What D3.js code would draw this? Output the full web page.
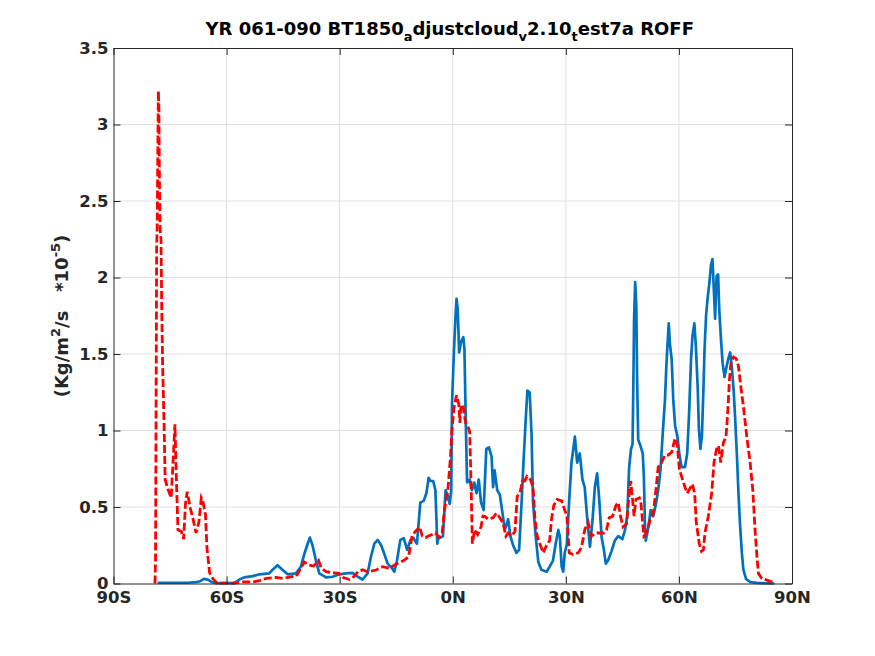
<!DOCTYPE html>
<html><head><meta charset="utf-8">
<script src="https://cdn.jsdelivr.net/npm/d3@7"></script>
<style>html,body{margin:0;padding:0;background:#fff;}svg{display:block;}</style>
</head><body>
<svg id="chart" width="875" height="656"></svg>
<script>
const xTicks = [-90, -60, -30, 0, 30, 60, 90];
const xTickLabels = ["90S", "60S", "30S", "0N", "30N", "60N", "90N"];
const yTicks = [0, 0.5, 1, 1.5, 2, 2.5, 3, 3.5];
const yTickLabels = ["0", "0.5", "1", "1.5", "2", "2.5", "3", "3.5"];

const blueLat = [-78.3,-74,-70.3,-68,-67,-66,-65,-64,-63,-62,-58,-57.5,-56.6,-55.3,-53.1,-51.3,-48.7,-47.8,-46.5,-45.1,-43.8,-41.6,-40.3,-39.4,-38.5,-37.9,-37.2,-36.3,-35.4,-33.6,-31.9,-30.1,-28.3,-26.6,-25.2,-23.9,-22.6,-21.7,-20.8,-19.9,-19.0,-18.1,-17.3,-16.1,-15.5,-14.8,-13.9,-13.0,-12.1,-11.2,-10.4,-9.5,-8.6,-7.7,-7.0,-6.4,-5.9,-5.2,-4.6,-4.1,-3.7,-3.2,-2.6,-1.9,-1.3,-0.8,-0.4,-0.2,0.27,0.7,1.0,1.3,1.7,2.2,2.8,3.1,3.5,3.8,4.5,5.1,5.7,6.3,6.9,7.5,8.2,8.9,9.6,10.3,10.7,11.1,11.8,12.5,13.2,13.8,14.7,15.3,16.0,16.9,17.6,18.2,18.8,19.4,19.8,20.4,20.9,21.3,22.0,22.7,23.5,24.9,25.7,26.6,27.3,28.0,28.4,28.9,29.3,29.7,30.3,30.9,31.5,32.1,32.4,33.0,33.7,34.4,35.0,35.7,36.4,37.1,37.7,38.3,38.8,39.5,40.1,40.6,41.2,42.1,43.0,43.9,45.0,45.7,46.3,46.8,47.3,47.7,47.9,48.1,48.4,48.7,48.9,49.2,49.8,50.4,50.7,51.0,51.2,51.9,52.5,53.2,53.9,54.5,55.1,55.7,56.3,56.7,57.3,57.6,58.1,58.5,59.0,59.6,60.1,60.7,61.6,62.2,62.7,63.2,63.6,64.1,64.5,65.0,65.3,65.7,66.1,66.5,66.8,67.2,67.6,68.1,68.5,68.9,69.3,69.6,70.0,70.4,70.7,71.2,71.6,72.1,72.5,73.1,73.6,74.0,74.5,74.9,75.4,75.8,76.2,76.7,77.1,77.8,78.9,80.7,85.3];
const blueVal = [0.005,0.005,0.005,0.01,0.015,0.03,0.025,0.01,0.003,0.002,0.002,0.01,0.026,0.04,0.048,0.06,0.066,0.09,0.12,0.088,0.06,0.066,0.11,0.19,0.26,0.30,0.25,0.15,0.066,0.04,0.044,0.06,0.066,0.07,0.044,0.026,0.066,0.175,0.26,0.285,0.25,0.19,0.13,0.10,0.077,0.15,0.285,0.296,0.22,0.285,0.296,0.26,0.53,0.54,0.59,0.69,0.67,0.67,0.61,0.26,0.31,0.30,0.31,0.61,0.57,0.52,0.61,1.17,1.49,1.73,1.86,1.80,1.51,1.58,1.61,1.53,1.01,0.66,0.68,0.61,0.66,0.59,0.68,0.53,0.48,0.88,0.89,0.83,0.63,0.74,0.61,0.58,0.46,0.35,0.42,0.31,0.25,0.20,0.22,0.50,0.81,1.09,1.26,1.25,0.98,0.53,0.31,0.14,0.09,0.077,0.11,0.15,0.26,0.35,0.31,0.11,0.077,0.20,0.26,0.55,0.79,0.90,0.96,0.79,0.85,0.68,0.63,0.42,0.24,0.42,0.63,0.72,0.57,0.30,0.22,0.13,0.15,0.21,0.28,0.31,0.29,0.35,0.44,0.76,0.88,0.91,1.27,1.72,1.97,1.81,1.35,0.94,0.90,0.85,0.70,0.37,0.28,0.37,0.48,0.44,0.52,0.61,0.74,0.98,1.20,1.44,1.70,1.57,1.46,1.20,1.03,0.96,0.85,0.76,0.76,0.85,1.11,1.46,1.62,1.70,1.55,1.27,1.01,0.88,0.96,1.27,1.53,1.75,1.86,1.97,2.08,2.12,1.90,1.73,2.01,2.02,1.79,1.58,1.44,1.35,1.40,1.47,1.51,1.42,1.27,1.09,0.83,0.59,0.39,0.20,0.09,0.03,0.01,0.004,0.0];

const redLat = [-79.0,-78.85,-78.7,-78.55,-78.4,-78.25,-78.1,-77.95,-77.8,-77.6,-77.4,-77.2,-76.95,-76.6,-76.3,-75.6,-74.7,-74.25,-73.7,-73.4,-72.9,-72.0,-71.4,-70.9,-70.45,-69.6,-68.8,-68.1,-67.35,-66.7,-66.3,-65.6,-65.2,-64.5,-63.6,-62.5,-58,-55.8,-53,-51.3,-49.5,-46.9,-45,-42.9,-41.5,-40.3,-39.4,-38.1,-36.9,-35.6,-34.9,-33.6,-31.5,-30.2,-29.2,-27.4,-26.1,-25.2,-23.9,-22.6,-20.3,-18.6,-16.8,-15.0,-13.0,-11.7,-10.8,-9.9,-8.8,-8.1,-7.2,-6.4,-5.5,-4.6,-3.7,-2.8,-2.2,-1.3,-0.6,-0.2,0.27,1.0,1.6,1.9,2.2,2.8,3.4,4.0,4.5,4.9,5.2,5.8,6.6,7.5,8.0,8.4,9.4,10.7,11.6,12.5,13.4,14.1,14.7,15.6,16.5,17.1,17.8,18.5,19.1,19.7,20.6,21.3,21.8,22.4,23.1,24.0,24.9,25.7,26.2,26.8,27.7,28.9,29.7,30.3,30.9,31.9,33.3,34.2,35.0,35.9,36.8,38.1,39.5,40.1,40.8,41.5,42.4,43.3,43.9,44.5,45.2,46.1,46.8,47.2,47.7,48.1,48.6,49.5,49.9,50.4,50.7,51.4,52.3,53.2,53.9,54.5,55.4,56.3,57.2,58.1,59.0,59.6,60.1,60.7,61.6,62.2,62.9,63.6,64.2,64.6,65.4,66.0,66.5,66.9,67.8,68.7,69.3,70.0,70.5,71.1,71.8,72.5,73.0,73.4,73.8,74.5,75.2,75.8,76.4,77.1,78.0,78.9,79.6,80.2,80.7,81.1,82.0,83.4,84.7,85.3];
const redVal = [0,0.15,1.2,2.2,2.35,2.8,3.22,3.1,2.6,2.3,2.25,1.8,1.41,1.06,0.68,0.62,0.56,0.77,1.04,0.75,0.35,0.34,0.29,0.52,0.60,0.49,0.41,0.33,0.40,0.56,0.54,0.45,0.23,0.07,0.03,0.002,0.002,0.01,0.01,0.018,0.033,0.04,0.033,0.044,0.048,0.10,0.14,0.12,0.114,0.15,0.10,0.077,0.07,0.066,0.04,0.026,0.048,0.077,0.09,0.077,0.088,0.11,0.10,0.127,0.15,0.175,0.31,0.34,0.37,0.31,0.30,0.31,0.32,0.33,0.30,0.33,0.48,0.61,0.83,1.01,1.14,1.23,1.17,1.05,1.17,1.15,1.05,1.03,0.99,0.61,0.26,0.35,0.32,0.37,0.44,0.44,0.42,0.43,0.46,0.43,0.39,0.31,0.33,0.31,0.34,0.57,0.59,0.67,0.67,0.70,0.68,0.63,0.42,0.31,0.26,0.20,0.25,0.28,0.42,0.51,0.55,0.54,0.48,0.44,0.20,0.19,0.20,0.24,0.35,0.40,0.31,0.33,0.33,0.33,0.35,0.43,0.44,0.51,0.53,0.44,0.37,0.39,0.59,0.67,0.55,0.44,0.55,0.56,0.53,0.39,0.31,0.33,0.41,0.46,0.61,0.76,0.79,0.84,0.84,0.86,0.95,0.90,0.75,0.70,0.63,0.59,0.62,0.65,0.58,0.40,0.26,0.21,0.22,0.33,0.44,0.59,0.79,0.88,0.90,0.79,0.92,0.96,1.14,1.33,1.44,1.48,1.47,1.42,1.29,1.16,0.96,0.79,0.61,0.35,0.175,0.066,0.033,0.022,0.01,0];

const titleParts = [["YR 061-090 BT1850", false], ["a", true], ["djustcloud", false], ["v", true], ["2.10", false], ["t", true], ["est7a ROFF", false]];

const svg = d3.select("#chart");
const L = 113.5, R = 792, T = 48, B = 583.5;
const x = d3.scaleLinear().domain([-90, 90]).range([L, R]);
const y = d3.scaleLinear().domain([0, 3.5]).range([B, T]);
const font = "'DejaVu Sans', sans-serif";
const axisCol = "#262626";

// grid
const g = svg.append("g");
g.selectAll(".gx").data(xTicks.slice(1, -1)).enter().append("line")
  .attr("x1", d => x(d)).attr("x2", d => x(d)).attr("y1", T).attr("y2", B)
  .attr("stroke", "#dfdfdf").attr("stroke-width", 1);
g.selectAll(".gy").data(yTicks.slice(1, -1)).enter().append("line")
  .attr("y1", d => y(d)).attr("y2", d => y(d)).attr("x1", L).attr("x2", R)
  .attr("stroke", "#dfdfdf").attr("stroke-width", 1);

// lines
const line = d3.line().x(d => x(d[0])).y(d => y(d[1]));
const blue = blueLat.map((d, i) => [d, blueVal[i]]);
const red = redLat.map((d, i) => [d, redVal[i]]);
svg.append("path").datum(blue).attr("d", line).attr("fill", "none")
  .attr("stroke", "#0072BD").attr("stroke-width", 2.7).attr("stroke-linejoin", "round");
svg.append("path").datum(red).attr("d", line).attr("fill", "none")
  .attr("stroke", "#FF0000").attr("stroke-width", 2.8).attr("stroke-dasharray", "8,3");

// axes with inward ticks (MATLAB style box)
const tl = 7;
const xb = d3.axisBottom(x).tickValues(xTicks).tickFormat((d, i) => xTickLabels[i]).tickSizeInner(-tl).tickSizeOuter(0).tickPadding(8);
const yl = d3.axisLeft(y).tickValues(yTicks).tickFormat((d, i) => yTickLabels[i]).tickSizeInner(-tl).tickSizeOuter(0).tickPadding(5);
const xt = d3.axisTop(x).tickValues(xTicks).tickFormat("").tickSizeInner(-tl).tickSizeOuter(0);
const yr = d3.axisRight(y).tickValues(yTicks).tickFormat("").tickSizeInner(-tl).tickSizeOuter(0);
function style(sel) {
  sel.selectAll("path").attr("stroke", axisCol).attr("stroke-width", 1);
  sel.selectAll("line").attr("stroke", axisCol).attr("stroke-width", 1);
  sel.selectAll("text").attr("fill", axisCol).attr("font-family", font).attr("font-weight", "bold").attr("font-size", 16.5);
}
svg.append("g").attr("transform", `translate(0,${B})`).call(xb).call(style);
svg.append("g").attr("transform", `translate(${L},0)`).call(yl).call(style);
svg.append("g").attr("transform", `translate(0,${T})`).call(xt).call(style);
svg.append("g").attr("transform", `translate(${R},0)`).call(yr).call(style);

// title
const title = svg.append("text").attr("x", (L + R) / 2 - 3).attr("y", 35).attr("text-anchor", "middle")
  .attr("font-family", font).attr("font-weight", "bold").attr("font-size", 18).attr("fill", "#000");
let sub = false;
titleParts.forEach(([t, s]) => {
  const ts = title.append("tspan").text(t);
  if (s && !sub) { ts.attr("dy", 6).attr("font-size", 13); sub = true; }
  else if (!s && sub) { ts.attr("dy", -6); sub = false; }
});

// y label
const yl2 = svg.append("text").attr("transform", "translate(68,316) rotate(-90)").attr("text-anchor", "middle")
  .attr("font-family", font).attr("font-weight", "bold").attr("font-size", 18).attr("fill", axisCol)
  .attr("xml:space", "preserve");
yl2.append("tspan").text("(Kg/m");
yl2.append("tspan").text("2").attr("font-size", 13).attr("dy", -8);
yl2.append("tspan").text("/s   *10").attr("dy", 8);
yl2.append("tspan").text("-5").attr("font-size", 13).attr("dy", -8);
yl2.append("tspan").text(")").attr("dy", 8);
</script>
</body></html>
